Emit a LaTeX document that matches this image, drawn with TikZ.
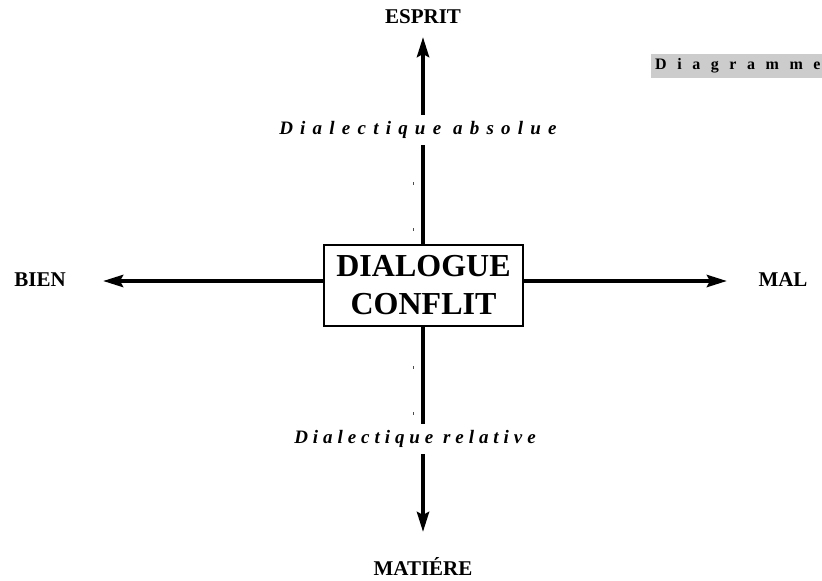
\documentclass[tikz,border=0pt]{standalone}
\usepackage{fontspec}
\setmainfont{Liberation Serif}
\newfontfamily\spaceda[LetterSpace=38]{Liberation Serif}
\newfontfamily\spacedr[LetterSpace=26]{Liberation Serif}
\newfontfamily\spacedd[LetterSpace=66]{Liberation Serif}
\usetikzlibrary{arrows.meta}
\begin{document}
\begin{tikzpicture}[x=1pt,y=-1pt,
  axis/.style={line width=4pt,-{Stealth[length=20pt,width=12pt,inset=3pt]}},
  pole/.style={font=\fontsize{21}{24}\selectfont\bfseries,inner sep=0pt},
  dial/.style={fill=white,inner sep=0pt,minimum height=30pt},
  tick/.style={fill=black!70}]
\useasboundingbox (0,0) rectangle (822,581);
% center box
\node[draw,line width=2.2pt,minimum width=199pt,minimum height=81pt,inner sep=0pt,
  align=center,font=\fontsize{32}{38}\selectfont\bfseries] (box) at (423.5,285.5) {DIALOGUE\\CONFLIT};
% end points
\coordinate (tN) at (423,37);
\coordinate (tS) at (423,532);
\coordinate (tW) at (103,281);
\coordinate (tE) at (727,281);
\draw[axis] (box.north -| tN) -- (tN);
\draw[axis] (box.south -| tS) -- (tS);
\draw[axis] (box.west |- tW) -- (tW);
\draw[axis] (box.east |- tE) -- (tE);
% labels
\node[pole] (esprit) at (423,17) {ESPRIT};
\node[pole] (matiere) at (423,566) {MATIÉRE};
\node[pole] (bien) at (40,280) {BIEN};
\node[pole] (mal) at (783,280) {MAL};
\node[dial,font=\fontsize{19}{22}\selectfont\spaceda\bfseries\itshape] (abs) at (418,130) {Dialectique absolue};
\node[dial,font=\fontsize{19}{22}\selectfont\spacedr\bfseries\itshape] (rel) at (415,439) {Dialectique relative};
% small marks
\fill[tick] (412.5,181.5) rectangle (413.5,184.5);
\fill[tick] (412.5,227.5) rectangle (413.5,230.5);
\fill[tick] (412.5,365.5) rectangle (413.5,368.5);
\fill[tick] (412.5,411.5) rectangle (413.5,414.5);
% tag
\fill[black!20] (651,54) rectangle (822,78);
\node[anchor=west,inner sep=0pt,font=\fontsize{16}{18}\selectfont\spacedd\bfseries] (diag) at (655,66) {Diagramme};
\end{tikzpicture}
\end{document}
